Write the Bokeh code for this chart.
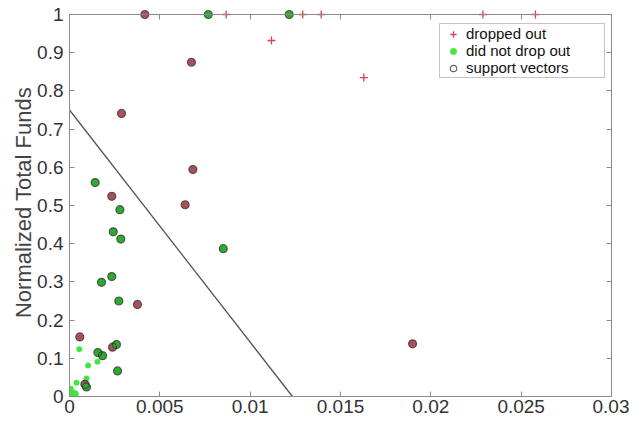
from bokeh.plotting import figure
from bokeh.models import LinearAxis, FixedTicker, Legend, LegendItem, Range1d
from bokeh.embed import file_html
from bokeh.resources import INLINE

# ---- data ----
# dropped out, not support vectors (red +)
dropped_x = [0.00867, 0.01291, 0.01393, 0.02288, 0.02579, 0.01118, 0.01629]
dropped_y = [1.000, 1.000, 1.000, 1.000, 1.000, 0.932, 0.835]
# dropped out, support vectors
dropped_sv_x = [0.00417, 0.00675, 0.00288, 0.00683, 0.00640, 0.00234, 0.00376,
                0.00057, 0.00238, 0.00085, 0.01899]
dropped_sv_y = [1.000, 0.875, 0.741, 0.594, 0.502, 0.524, 0.241,
                0.156, 0.129, 0.032, 0.138]
# did not drop out, not support vectors (green dots)
stayed_x = [0.00054, 0.00103, 0.00155, 0.00094, 0.00039, 0.00007, 0.00026,
            0.00035, 0.00013, 0.00000, 0.00002]
stayed_y = [0.124, 0.081, 0.091, 0.047, 0.036, 0.020, 0.010,
            0.007, 0.007, 0.001, 0.004]
# did not drop out, support vectors
stayed_sv_x = [0.00768, 0.01216, 0.00142, 0.00279, 0.00242, 0.00284, 0.00851,
               0.00234, 0.00177, 0.00273, 0.00260, 0.00157, 0.00183, 0.00266,
               0.00094]
stayed_sv_y = [1.000, 1.000, 0.560, 0.489, 0.431, 0.412, 0.387,
               0.314, 0.299, 0.250, 0.136, 0.115, 0.107, 0.067,
               0.025]
# SVM decision boundary end points
boundary_x = [0.0, 0.01234]
boundary_y = [0.75, 0.0]

x_ticks = [0.0, 0.005, 0.01, 0.015, 0.02, 0.025, 0.03]
x_tick_labels = ["0", "0.005", "0.01", "0.015", "0.02", "0.025", "0.03"]
y_ticks = [0.0, 0.1, 0.2, 0.3, 0.4, 0.5, 0.6, 0.7, 0.8, 0.9, 1.0]
y_tick_labels = ["0", "0.1", "0.2", "0.3", "0.4", "0.5", "0.6", "0.7", "0.8", "0.9", "1"]
y_label = "Normalized Total Funds"
legend_labels = ["dropped out", "did not drop out", "support vectors"]

FONT = "Liberation Sans"
AXC = "#8a8a8a"

# all support vectors (outlined circles drawn on top)
sv_x = dropped_sv_x + stayed_sv_x
sv_y = dropped_sv_y + stayed_sv_y

# a few pixels of head-room above y = 1 so markers on the top edge are not clipped
TOP_PAD_PX = 6
BOX_H_PX = 382
y_top = y_ticks[-1] + (y_ticks[-1] - y_ticks[0]) * TOP_PAD_PX / BOX_H_PX

p = figure(width=629, height=421, output_backend="svg", toolbar_location=None,
           x_range=Range1d(x_ticks[0], x_ticks[-1]),
           y_range=Range1d(y_ticks[0], y_top),
           min_border_left=69, min_border_right=18,
           min_border_top=8, min_border_bottom=25,
           background_fill_color="white", border_fill_color="white")
p.xgrid.visible = False
p.ygrid.visible = False
p.outline_line_color = None

def style_axis(ax, ticks, labels=None):
    ax.ticker = FixedTicker(ticks=ticks)
    ax.major_tick_in = 5
    ax.major_tick_out = 0
    ax.minor_tick_in = 0
    ax.minor_tick_out = 0
    ax.axis_line_color = AXC
    ax.axis_line_width = 1
    ax.major_tick_line_color = AXC
    if labels is None:
        ax.major_label_overrides = {t: "" for t in ticks}
        ax.major_label_text_font_size = "1px"
        ax.major_label_standoff = 0
    else:
        ax.major_label_overrides = {t: l for t, l in zip(ticks, labels)}
        ax.major_label_text_font = FONT
        ax.major_label_text_font_size = "19px"
        ax.major_label_text_color = "#333333"

xa = p.xaxis[0]
style_axis(xa, x_ticks, x_tick_labels)
xa.major_label_standoff = 3

ya = p.yaxis[0]
style_axis(ya, y_ticks, y_tick_labels)
ya.bounds = (y_ticks[0], y_ticks[-1])
ya.major_label_standoff = 6
ya.axis_label = y_label
ya.axis_label_text_font = FONT
ya.axis_label_text_font_size = "22px"
ya.axis_label_text_font_style = "normal"
ya.axis_label_text_color = "#444444"
ya.axis_label_standoff = -2

top_ax = LinearAxis(fixed_location=y_ticks[-1])
style_axis(top_ax, x_ticks)
p.add_layout(top_ax, "above")
right_ax = LinearAxis(bounds=(y_ticks[0], y_ticks[-1]))
style_axis(right_ax, y_ticks)
p.add_layout(right_ax, "right")

# decision boundary
p.line(boundary_x, boundary_y, line_color="#555555", line_width=1.3)

r_drop = p.scatter(dropped_x, dropped_y, marker="cross", size=8,
                   line_color="#e0404f", line_width=1.3)
r_stay = p.scatter(stayed_x, stayed_y, marker="circle", size=5.5,
                   fill_color="#3ee63e", line_color="#3ee63e", line_width=0.5)
p.scatter(dropped_sv_x, dropped_sv_y, marker="circle", size=8,
          fill_color="#a9505a", line_color=None)
p.scatter(stayed_sv_x, stayed_sv_y, marker="circle", size=8,
          fill_color="#2eaa2e", line_color=None)
r_sv = p.scatter(sv_x, sv_y, marker="circle", size=8, fill_color=None,
                 line_color="#333333", line_alpha=0.75, line_width=1.2)

legend = Legend(items=[LegendItem(label=legend_labels[0], renderers=[r_drop]),
                       LegendItem(label=legend_labels[1], renderers=[r_stay]),
                       LegendItem(label=legend_labels[2], renderers=[r_sv])],
                location=(370, 318), margin=0, padding=1, spacing=0,
                glyph_width=24, glyph_height=16, label_height=16,
                label_standoff=1, label_width=137,
                label_text_font=FONT, label_text_font_size="15px",
                label_text_color="#111111",
                border_line_color="#8a8a8a", border_line_width=1,
                background_fill_color="white", background_fill_alpha=1)
p.add_layout(legend)

open("out.html", "w").write(file_html(p, INLINE))
